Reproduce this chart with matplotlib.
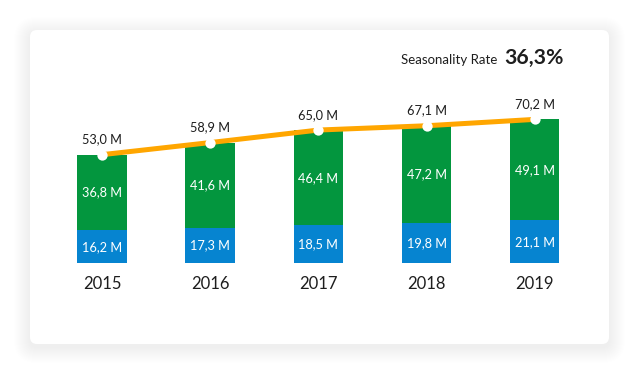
import matplotlib.pyplot as plt
from matplotlib.patches import FancyBboxPatch
from matplotlib.transforms import IdentityTransform
import numpy as np

plt.rcParams['font.family'] = ['Lato', 'DejaVu Sans']

years = ['2015', '2016', '2017', '2018', '2019']
base_vals = [16.2, 17.3, 18.5, 19.8, 21.1]   # blue segment
top_vals = [36.8, 41.6, 46.4, 47.2, 49.1]    # green segment
totals = [53.0, 58.9, 65.0, 67.1, 70.2]
rate_label = 'Seasonality Rate'
rate_value = '36,3%'

blue = '#0684d0'
green = '#03963e'
orange = '#ffa600'
dark = '#1e1e1e'


def fmt(v):
    return f'{v:.1f} M'.replace('.', ',')


W, H = 639, 375
fig = plt.figure(figsize=(W / 100, H / 100), dpi=100)
fig.patch.set_facecolor('white')

# card shadow + card (pixel coords), kept under the axes
cx, cy, cw, ch = 30, 31, 579, 314
for k in range(16, 0, -1):
    sh = FancyBboxPatch((cx - k, cy - k - 3), cw + 2 * k, ch + 2 * k,
                        boxstyle=f'round,pad=0,rounding_size={7 + k}',
                        transform=IdentityTransform(), facecolor='black',
                        edgecolor='none', alpha=0.0045, zorder=-3)
    fig.patches.append(sh)
card = FancyBboxPatch((cx, cy), cw, ch, boxstyle='round,pad=0,rounding_size=7',
                      transform=IdentityTransform(), facecolor='white',
                      edgecolor='none', zorder=-2)
fig.patches.append(card)

ax = fig.add_axes([30 / W, (H - 263.3) / H, 579 / W, (263.3 - 50) / H])
ax.patch.set_visible(False)
x = np.arange(len(years))
ax.set_xlim(-0.668, 4.688)
ax.set_ylim(0, 213.3 / 2.05)

ax.bar(x, base_vals, width=0.46, color=blue, zorder=2)
ax.bar(x, top_vals, width=0.46, bottom=base_vals, color=green, zorder=2)
ax.plot(x, totals, color=orange, lw=3.6, zorder=3, solid_capstyle='butt')
ax.scatter(x, totals, s=55, color='white', zorder=4, linewidths=0)

for i in range(len(years)):
    ax.text(x[i], base_vals[i] / 2, fmt(base_vals[i]), color='white',
            ha='center', va='center', fontsize=9.2, zorder=5)
    ax.text(x[i], base_vals[i] + top_vals[i] / 2, fmt(top_vals[i]), color='white',
            ha='center', va='center', fontsize=9.2, zorder=5)
    ax.annotate(fmt(totals[i]), (x[i], totals[i]), xytext=(0, 8),
                textcoords='offset points', ha='center', va='baseline',
                fontsize=9.2, color=dark, zorder=5)

ax.set_xticks(x, years)
ax.tick_params(axis='x', length=0, pad=9, labelsize=12, labelcolor=dark)
ax.set_yticks([])
for s in ax.spines.values():
    s.set_visible(False)

fig.text(497 / W, 1 - 64 / H, rate_label, ha='right', va='baseline',
         fontsize=9.5, color=dark)
fig.text(564 / W, 1 - 64 / H, rate_value, ha='right', va='baseline',
         fontsize=15.3, fontweight='bold', color=dark)

fig.savefig('out.png', dpi=100)
